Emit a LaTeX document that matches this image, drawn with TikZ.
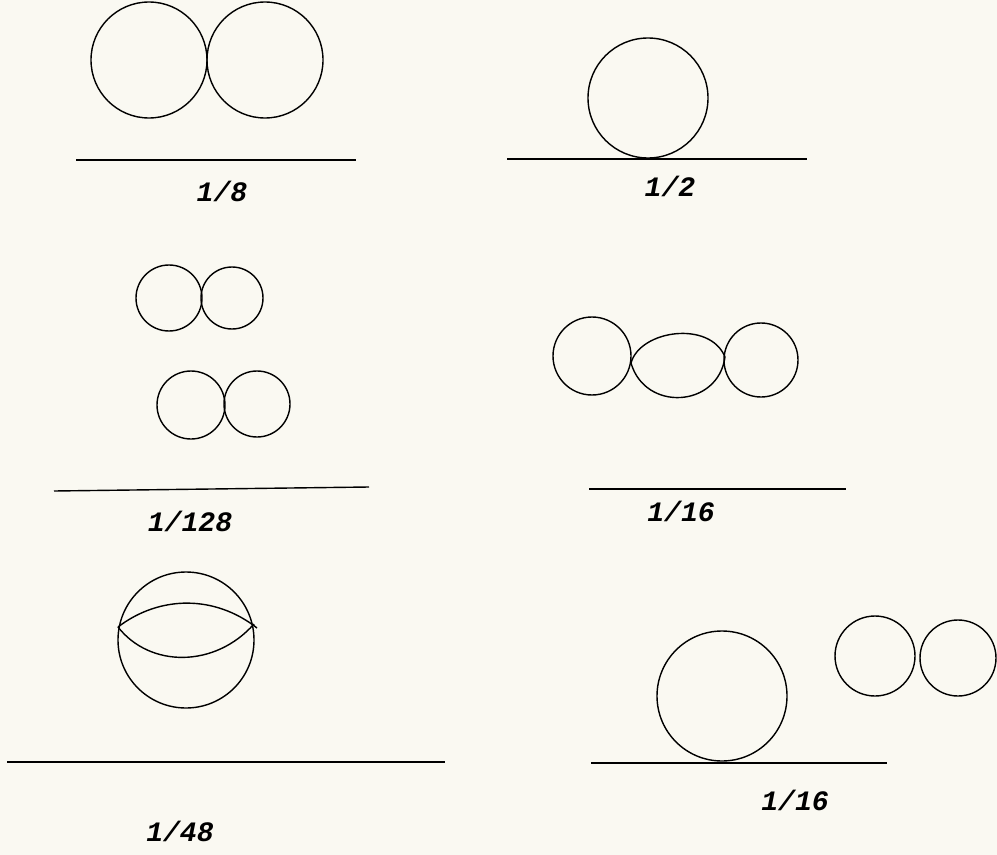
\documentclass[tikz,border=0pt]{standalone}
\usepackage{fontspec}
\usepackage{tikz}
\newfontfamily\fracfont{Liberation Mono}
\definecolor{paper}{HTML}{FAF9F2}

\begin{document}
\begin{tikzpicture}[x=0.02cm, y=-0.02cm, line width=0.8pt,
    frac/.style={font=\fracfont\bfseries\itshape\fontsize{16}{18}\selectfont, inner sep=0pt}]
  \fill[paper] (0,0) rectangle (997,855);
  \useasboundingbox (0,0) rectangle (997,855);

  % top left
  \draw (149,60) circle (58);
  \draw (265,60) circle (58);
  \draw (76,160) -- (356,160);
  \node[frac] (f8) at (222,191) {1/8};

  % top right
  \draw (648,98) circle (60);
  \draw (507,159) -- (807,159);
  \node[frac] (f2) at (670,186) {1/2};

  % middle left
  \draw (169,298) circle (33);
  \draw (232,298) circle (31);
  \draw (191,405) circle (34);
  \draw (257,404) circle (33);
  \draw (54,491) -- (369,487);
  \node[frac] (f128) at (190,521) {1/128};

  % middle right
  \draw (592,356) circle (39);
  \draw (631,363) .. controls (640,330) and (710,320) .. (725,357)
                  .. controls (718,408) and (645,412) .. cycle;
  \draw (761,360) circle (37);
  \draw (589,489) -- (846,489);
  \node[frac] (f16a) at (681,511) {1/16};

  % bottom left
  \draw (186,640) circle (68);
  \draw (118,627) .. controls (160,595) and (215,595) .. (257,628);
  \draw (118,627) .. controls (150,668) and (215,668) .. (254,624);
  \draw (7,762) -- (445,762);
  \node[frac] (f48) at (180,831) {1/48};

  % bottom right
  \draw (722,696) circle (65);
  \draw (591,763) -- (887,763);
  \node[frac] (f16b) at (795,800) {1/16};
  \draw (875,656) circle (40);
  \draw (958,658) circle (38);
\end{tikzpicture}
\end{document}
